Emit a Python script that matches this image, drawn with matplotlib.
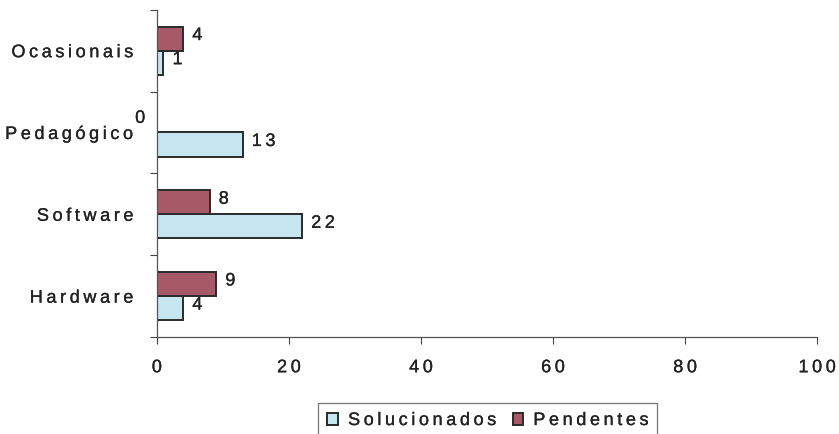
import matplotlib
matplotlib.use("Agg")
import matplotlib.pyplot as plt
import matplotlib.patheffects as pe
import numpy as np
from matplotlib.ticker import FixedLocator

categories = ["Hardware", "Software", "Pedagógico", "Ocasionais"]
solucionados = [4, 22, 13, 1]
pendentes = [9, 8, 0, 4]
series_names = ["Solucionados", "Pendentes"]
x_ticks = [0, 20, 40, 60, 80, 100]

COL_SOL = "#c6e6ef"
COL_PEN = "#a65a68"
EDGE = "#2a2a2a"
TXT = "#222222"
FAM = ["Liberation Sans", "DejaVu Sans"]
FS = 13
SP = "\u2009"
THICK = [pe.withStroke(linewidth=0.2, foreground=TXT)]


def spaced(s):
    return SP.join(s)


fig = plt.figure(figsize=(8.39, 4.34), dpi=100)
ax = fig.add_axes([0.187, 0.2235, 0.787, 0.754])

y = np.arange(len(categories))
h = 0.295
b1 = ax.barh(y - h / 2, solucionados, height=h, color=COL_SOL,
             edgecolor=EDGE, linewidth=1.4, label=spaced(series_names[0]))
b2 = ax.barh(y + h / 2, pendentes, height=h, color=COL_PEN,
             edgecolor=EDGE, linewidth=1.4, label=spaced(series_names[1]))

for bars, vals in ((b1, solucionados), (b2, pendentes)):
    for rect, v in zip(bars, vals):
        cy = rect.get_y() + rect.get_height() / 2
        if v == 0:
            ax.annotate(str(v), (v, cy), xytext=(-12, 1.5), textcoords="offset points",
                        ha="center", va="center", fontsize=FS, family=FAM, color=TXT,
                        path_effects=THICK, annotation_clip=False)
        else:
            ax.annotate(spaced(str(v)), (v, cy), xytext=(6.5, 2.2), textcoords="offset points",
                        ha="left", va="center", fontsize=FS, family=FAM, color=TXT,
                        path_effects=THICK)

ax.set_xlim(0, 100)
ax.set_ylim(-0.5, len(categories) - 0.5)
ax.set_xticks(x_ticks)
ax.set_xticklabels([spaced(str(t)) for t in x_ticks], fontsize=FS, family=FAM, color=TXT)
ax.set_yticks(y)
ax.set_yticklabels([spaced(c) for c in categories], fontsize=FS, family=FAM, color=TXT)
for lab in ax.get_xticklabels() + ax.get_yticklabels():
    lab.set_path_effects(THICK)
ax.tick_params(axis="y", which="major", length=0, pad=17)
ax.yaxis.set_minor_locator(FixedLocator(np.arange(-0.5, len(categories), 1.0)))
ax.tick_params(axis="y", which="minor", length=5, width=0.8, color="#444444")
ax.tick_params(axis="x", which="major", length=5, width=0.8, color="#444444", pad=11)

for side in ("top", "right"):
    ax.spines[side].set_visible(False)
for side in ("left", "bottom"):
    ax.spines[side].set_color("#555555")
    ax.spines[side].set_linewidth(0.9)

leg = fig.legend(loc="upper center", bbox_to_anchor=(0.5815, 1 - 403 / 434), ncol=2,
                 frameon=True, fancybox=False, edgecolor="#555555",
                 prop={"family": FAM, "size": FS}, handlelength=0.6, handleheight=0.65,
                 handletextpad=0.55, columnspacing=0.9, borderpad=0.5, borderaxespad=0)
leg.get_frame().set_linewidth(0.9)
for t in leg.get_texts():
    t.set_color(TXT)
    t.set_path_effects(THICK)

fig.savefig("out.png", dpi=100, facecolor="white")
